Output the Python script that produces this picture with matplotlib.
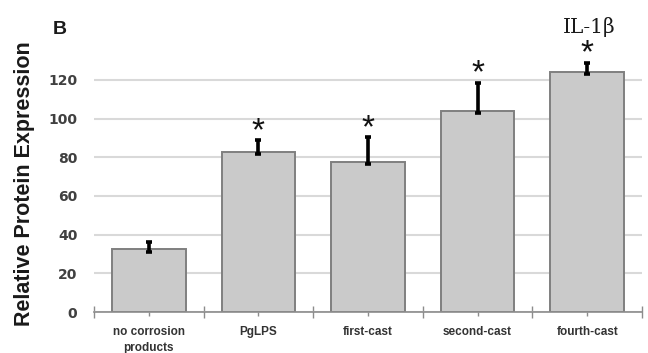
import matplotlib
matplotlib.use("Agg")
from matplotlib import pyplot as plt
import numpy as np

# data
groups = ["no corrosion\nproducts", "PgLPS", "first-cast", "second-cast", "fourth-cast"]
expression = [32.6, 82.6, 77.4, 104.0, 124.0]
err_low = [1.5, 1.0, 1.0, 1.0, 1.0]
err_high = [3.6, 6.4, 13.0, 14.6, 5.0]
significant = [False, True, True, True, True]
yticks = [0, 20, 40, 60, 80, 100, 120]

fig = plt.figure(figsize=(6.48, 3.53), dpi=100)
# y from 0 to 140 so the tallest bar and its star fit
ax = fig.add_axes([94 / 648, 41 / 353, 548 / 648, 270.7 / 353])

x = np.arange(len(groups))
ax.bar(x, expression, width=0.67, color="#cacaca", edgecolor="#7f7f7f",
       linewidth=1.4, zorder=2)
ax.errorbar(x, expression, yerr=[err_low, err_high], fmt="none",
            ecolor="black", elinewidth=2.6, capsize=2.5, capthick=2.6, zorder=3)

# significance stars above the error bars
for xi, v, e, s in zip(x, expression, err_high, significant):
    if s:
        ax.annotate("*", (xi, v + e), xytext=(0, -5), textcoords="offset points",
                    ha="center", va="bottom", fontsize=24,
                    family="Liberation Sans", color="#111111",
                    annotation_clip=False)

ax.set_xlim(-0.5, len(groups) - 0.5)
ax.set_ylim(0, 140)
ax.set_yticks(yticks)
ax.yaxis.grid(True, color="#d9d9d9", linewidth=1.5, zorder=0)
ax.set_axisbelow(True)
ax.tick_params(axis="y", length=0, pad=12, labelsize=10, labelcolor="#404040")
for lab in ax.get_yticklabels():
    lab.set_fontweight("bold")

# category boundaries as major ticks, labels at the centres
ax.set_xticks(np.arange(-0.5, len(groups), 1.0))
ax.set_xticklabels([])
ax.set_xticks(x, minor=True)
ax.set_xticklabels(groups, minor=True, fontsize=8.5, fontweight="bold",
                   color="#333333", family="Liberation Sans", linespacing=1.5)
ax.tick_params(axis="x", which="major", direction="inout", length=8,
               color="#8c8c8c", width=1)
ax.tick_params(axis="x", which="minor", direction="out", length=3,
               color="#8c8c8c", width=1, pad=7)

for side in ["top", "right", "left"]:
    ax.spines[side].set_visible(False)
ax.spines["bottom"].set_color("#8c8c8c")
ax.spines["bottom"].set_linewidth(1.2)

fig.text(25 / 648, 1 - 184 / 353, "Relative Protein Expression", rotation=90,
         ha="center", va="center", fontsize=15.5, fontweight="bold",
         family="Liberation Sans", color="#1a1a1a")
fig.text(53 / 648, 1 - 34 / 353, "B", ha="left", va="baseline", fontsize=14,
         fontweight="bold", family="Liberation Sans", color="#1a1a1a")
fig.text(589 / 648, 1 - 33 / 353, "IL-1β", ha="center", va="baseline",
         fontsize=14.5, family="DejaVu Serif", color="#1a1a1a")

fig.savefig("out.png", dpi=100)
